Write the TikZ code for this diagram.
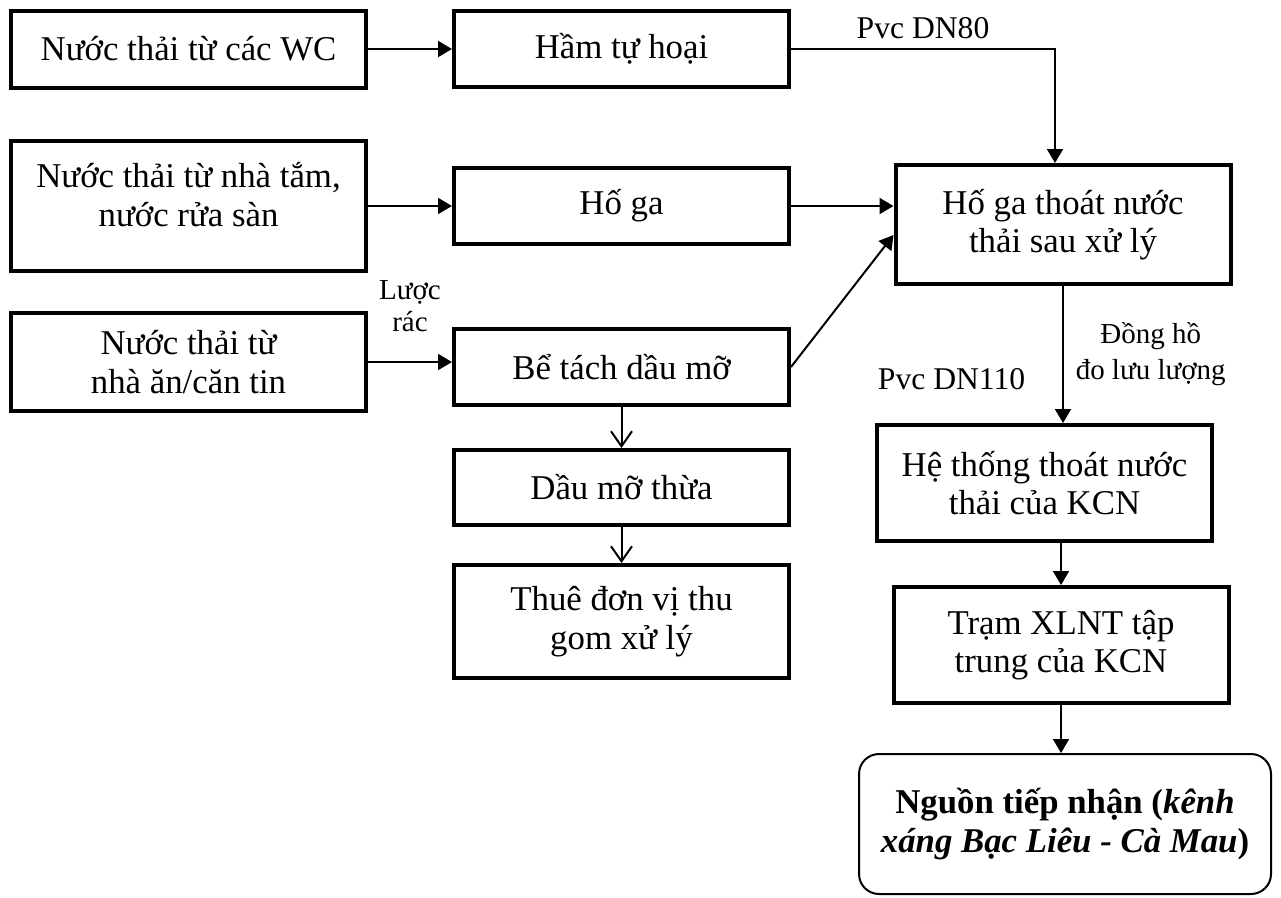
\documentclass[tikz,border=0pt]{standalone}
\usepackage{fontspec}
\setmainfont{Liberation Serif}
\usetikzlibrary{positioning, arrows.meta, calc}

\begin{document}
\begin{tikzpicture}[
  box/.style  = {draw, line width=0.8mm, align=center, minimum width=6.7cm,
                 minimum height=1.52cm, inner sep=1mm,
                 font=\fontsize{19.8}{21.8}\selectfont},
  src/.style  = {box, minimum width=7.1cm},
  sink/.style = {box, line width=0.4mm, rounded corners=4mm,
                 font=\fontsize{19.8}{21.8}\selectfont\bfseries},
  flow/.style = {-{Triangle[length=2.8mm,width=3.2mm]}, line width=0.4mm},
  drop/.style = {-{Straight Barb[length=3mm,width=4.2mm]}, line width=0.4mm},
  lbl/.style  = {font=\fontsize{16.5}{20.5}\selectfont, align=center, inner sep=1pt},
  pipe/.style = {font=\fontsize{18}{20}\selectfont, inner sep=1pt},
]
\useasboundingbox (0,0) rectangle (25.62,-17.94);

% --- sources -------------------------------------------------------------
\node[src, minimum height=1.54cm] (wc)  at (3.77,-0.98) {Nước thải từ các WC};
\node[src, minimum height=2.6cm]  (tam) at (3.77,-4.12) {Nước thải từ nhà tắm,\\nước rửa sàn\\[-3mm]\mbox{}};
\node[src, minimum height=1.96cm] (an)  at (3.77,-7.24) {Nước thải từ\\nhà ăn/căn tin};

% --- pre-treatment -------------------------------------------------------
\node[box] (ham)    at (12.43,-0.98) {Hầm tự hoại};
\node[box] (hoga)   at (12.43,-4.12) {Hố ga};
\node[box] (betach) at (12.43,-7.34) {Bể tách dầu mỡ};
\node[box, minimum height=1.5cm]  (dau)  at (12.43,-9.75)  {Dầu mỡ thừa};
\node[box, minimum height=2.26cm] (thue) at (12.43,-12.43) {Thuê đơn vị thu\\gom xử lý};

% --- discharge -----------------------------------------------------------
\node[box, minimum height=2.38cm] (hgt)   at (21.26,-4.49) {Hố ga thoát nước\\thải sau xử lý};
\node[box, minimum height=2.32cm] (htkcn) at (20.89,-9.66) {Hệ thống thoát nước\\thải của KCN};
\node[box, minimum height=2.32cm] (tram)  at (21.22,-12.9) {Trạm XLNT tập\\trung của KCN};
\node[sink, minimum width=8.24cm, minimum height=2.8cm] (nguon) at (21.3,-16.48)
     {Nguồn tiếp nhận (\textit{kênh}\\\textit{xáng Bạc Liêu - Cà Mau})};

% --- inflows -------------------------------------------------------------
\draw[flow] (wc.east) -- (wc.east -| ham.west);
\draw[flow] (tam.east) -- (tam.east -| hoga.west);
\draw[flow] (an.east) -- node[lbl, above=5.5mm, font=\fontsize{16.5}{18}\selectfont]
     {Lược\\rác} (an.east -| betach.west);

% --- to the outlet pit ---------------------------------------------------
\draw[flow] (ham.east) -| node[pipe, above=1.5mm, pos=0.25] {Pvc DN80}
     ([xshift=-1.6mm]hgt.north);
\draw[flow] (hoga.east) -- (hoga.east -| hgt.west);
\draw[flow] (betach.east) -- ([yshift=-2.1mm]hgt.west);

% --- grease --------------------------------------------------------------
\draw[drop] (betach.south) -- (dau.north);
\draw[drop] (dau.south) -- (thue.north);

% --- to the park network -------------------------------------------------
\draw[flow] (hgt.south) --
     node[lbl, right=2mm, pos=0.5] {Đồng hồ\\đo lưu lượng}
     node[pipe, left=7mm, pos=0.68] {Pvc DN110}
     (hgt.south |- htkcn.north);
\draw[flow] (tram.north |- htkcn.south) -- (tram.north);
\draw[flow] (tram.south) -- (tram.south |- nguon.north);

\end{tikzpicture}
\end{document}
